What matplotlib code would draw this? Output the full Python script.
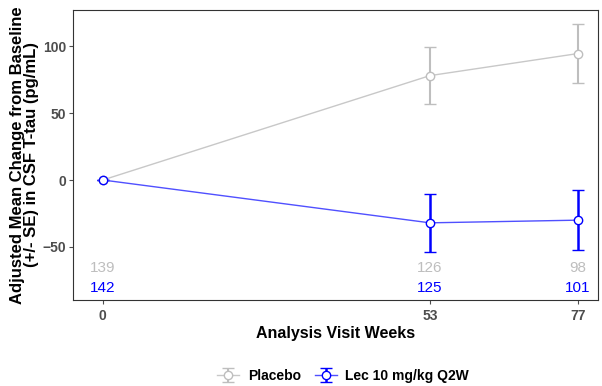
import numpy as np
import matplotlib.pyplot as plt

plt.rcParams['font.family'] = ['Liberation Sans', 'DejaVu Sans']

weeks = [0, 53, 77]
groups = ['Placebo', 'Lec 10 mg/kg Q2W']
placebo_mean = [0, 78, 94.5]
placebo_se = [0, 21.5, 22.2]
lec_mean = [0, -32, -30]
lec_se = [0, 21.6, 22.4]
placebo_n = ['139', '126', '98']
lec_n = ['142', '125', '101']

colors = ['#BEBEBE', '#0000FF']
line_colors = ['#C8C8C8', '#5050FF']

fig = plt.figure(figsize=(6.02, 3.86), dpi=100)
ax = fig.add_axes([0.121, 0.223, 0.872, 0.751])

means = [placebo_mean, lec_mean]
ses = [placebo_se, lec_se]
for i in range(2):
    eb = ax.errorbar(weeks, means[i], yerr=ses[i], fmt='-o', color=colors[i], lw=1,
                     mfc='white', mec=colors[i], ms=6, mew=1,
                     elinewidth=1.8 if i else 1.5,
                     capsize=4, capthick=1.8 if i else 1.5, label=groups[i], zorder=3)
    eb.lines[0].set_color(line_colors[i])
    eb.lines[0].set_markeredgecolor(colors[i])

for j, w in enumerate(weeks):
    ax.text(w, -65.5, placebo_n[j], color=colors[0], ha='center', va='center', fontsize=11)
    ax.text(w, -80.5, lec_n[j], color=colors[1], ha='center', va='center', fontsize=11)

ax.set_xlim(-4.86, 80.2)
ax.set_ylim(-89.6, 127)
ax.set_xticks(weeks)
ax.set_yticks([-50, 0, 50, 100])
ax.tick_params(colors='#4D4D4D', labelsize=10, length=3)
ax.tick_params(axis='y', pad=2)
for lab in ax.get_xticklabels() + ax.get_yticklabels():
    lab.set_fontweight('bold')
for s in ax.spines.values():
    s.set_color('#333333')
    s.set_linewidth(0.8)

ax.set_xlabel('Analysis Visit Weeks', fontsize=11.5, fontweight='bold', labelpad=2)
ax.set_ylabel('Adjusted Mean Change from Baseline\n(+/- SE) in CSF T-tau (pg/mL)',
              fontsize=12, fontweight='bold', linespacing=0.95)
ax.yaxis.set_label_coords(-0.064, 0.5)

fig.legend(loc='lower center', bbox_to_anchor=(0.57, -0.025), ncol=2, frameon=False,
           prop={'weight': 'bold', 'size': 10}, handlelength=1.6, columnspacing=1.0,
           handletextpad=0.6)

fig.savefig('out.png', dpi=100)
